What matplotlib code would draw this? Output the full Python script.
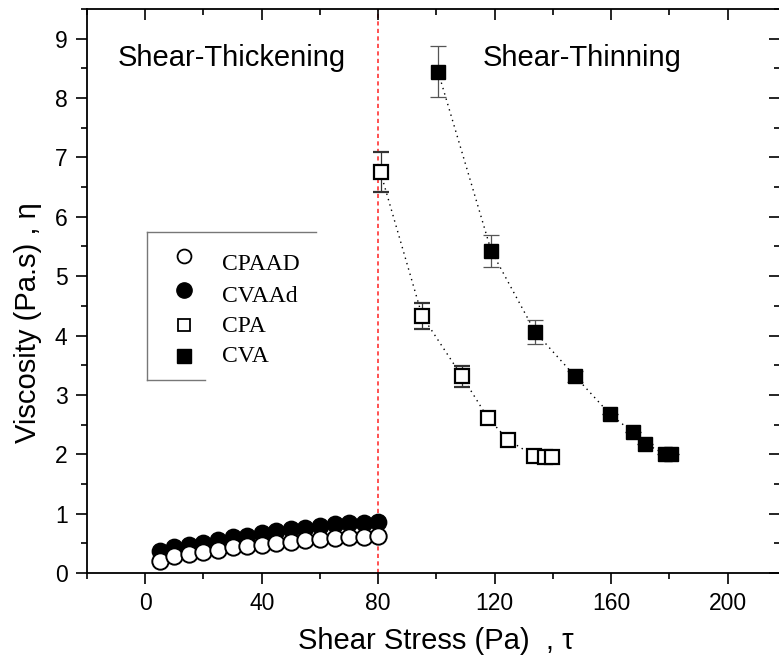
import matplotlib
matplotlib.use("Agg")
import matplotlib.pyplot as plt
from matplotlib.lines import Line2D
from matplotlib.ticker import MultipleLocator

# ---- data ----
x_circ = [5, 10, 15, 20, 25, 30, 35, 40, 45, 50, 55, 60, 65, 70, 75, 80]
cpaad = [0.20, 0.28, 0.32, 0.35, 0.39, 0.43, 0.45, 0.48, 0.51, 0.53, 0.55, 0.57, 0.59, 0.60, 0.61, 0.62]
cpaad_err = [0.04] * 16
cvaad = [0.37, 0.43, 0.48, 0.51, 0.56, 0.61, 0.63, 0.68, 0.71, 0.74, 0.76, 0.80, 0.83, 0.84, 0.84, 0.86]

x_cpa = [80.8, 95.1, 108.8, 117.7, 124.7, 133.6, 137.4, 139.7]
cpa = [6.75, 4.33, 3.31, 2.61, 2.24, 1.97, 1.95, 1.95]
cpa_err = [0.34, 0.22, 0.17, 0.05, 0.0, 0.0, 0.0, 0.0]

x_cva = [100.6, 118.8, 133.9, 147.7, 159.7, 167.5, 171.8, 178.5, 180.5]
cva = [8.44, 5.43, 4.06, 3.31, 2.67, 2.37, 2.18, 2.00, 2.00]
cva_err = [0.43, 0.27, 0.20, 0.10, 0.0, 0.0, 0.0, 0.0, 0.0]

series_names = ["CPAAD", "CVAAd", "CPA", "CVA"]
x_ticks = [0, 40, 80, 120, 160, 200]
y_ticks = [0, 1, 2, 3, 4, 5, 6, 7, 8, 9]

W, H = 779, 660
fig = plt.figure(figsize=(W / 100, H / 100), dpi=100)
left, right, top, bottom = 87, 780, 9, 573
ax = fig.add_axes([left / W, (H - bottom) / H, (right - left) / W, (bottom - top) / H])

sans = "Liberation Sans"
serif = "Liberation Serif"

def fx(px):
    return px / W

def fy(py):
    return 1 - py / H

# red dashed separator
ax.axvline(80, color="#ff3333", ls=(0, (2.5, 2)), lw=1.2, zorder=1)

# circles
ax.errorbar(x_circ, cpaad, yerr=cpaad_err, fmt="o", ms=11.8, mfc="white", mec="black",
            mew=1.4, ecolor="#444444", elinewidth=0.8, capsize=4, capthick=0.8, zorder=3)
ax.errorbar(x_circ, cvaad, fmt="o", ms=11.8, mfc="black", mec="black", zorder=2)

# squares with dotted lines
ax.plot(x_cpa, cpa, ls=(0, (1, 3)), color="black", lw=1.0, zorder=2)
ax.errorbar(x_cpa, cpa, yerr=cpa_err, fmt="s", ms=10.5, mfc="white", mec="black",
            mew=1.6, ecolor="#333333", elinewidth=0.9, capsize=6, capthick=0.9, zorder=3)
ax.plot(x_cva, cva, ls=(0, (1, 3)), color="black", lw=1.0, zorder=2)
ax.errorbar(x_cva, cva, yerr=cva_err, fmt="s", ms=10.5, mfc="black", mec="black",
            ecolor="#555555", elinewidth=0.9, capsize=6, capthick=0.9, zorder=3)

ax.set_xlim(-20, 218)
ax.set_ylim(0, 9.5)
ax.set_xticks(x_ticks)
ax.set_yticks(y_ticks)
ax.xaxis.set_minor_locator(MultipleLocator(20))
ax.yaxis.set_minor_locator(MultipleLocator(0.5))

ax.tick_params(axis="both", which="major", length=8, width=1.2, labelsize=16.5, pad=6)
ax.tick_params(axis="both", which="minor", length=4, width=1.2)
ax.tick_params(axis="x", which="both", top=True, bottom=True, direction="out")
ax.tick_params(axis="y", which="both", left=True, right=True, direction="out")
# inward ticks on top/right
for t in ax.xaxis.get_major_ticks() + ax.xaxis.get_minor_ticks():
    t.tick2line.set_marker(3)
for t in ax.yaxis.get_major_ticks() + ax.yaxis.get_minor_ticks():
    t.tick2line.set_marker(0)
for lab in ax.get_xticklabels() + ax.get_yticklabels():
    lab.set_fontfamily(sans)
for s in ax.spines.values():
    s.set_linewidth(1.3)

fig.text(fx(436), fy(641), "Shear Stress (Pa)  , τ", fontfamily=sans, fontsize=21,
         ha="center", va="center")
fig.text(fx(28), fy(323), "Viscosity (Pa.s) , η", fontfamily=sans, fontsize=21,
         ha="center", va="center", rotation=90)

fig.text(fx(118), fy(58), "Shear-Thickening", fontfamily=sans, fontsize=21,
         ha="left", va="center")
fig.text(fx(483), fy(58), "Shear-Thinning", fontfamily=sans, fontsize=21,
         ha="left", va="center")

# legend (manual layout)
marker_styles = [
    dict(marker="o", ms=10, mfc="white", mec="black", mew=1.3),
    dict(marker="o", ms=11, mfc="black", mec="black"),
    dict(marker="s", ms=9, mfc="white", mec="black", mew=1.3),
    dict(marker="s", ms=10, mfc="black", mec="black"),
]
marker_rows = [256, 290, 325, 356]
text_rows = [264, 296, 326, 357]
for name, st, my, ty in zip(series_names, marker_styles, marker_rows, text_rows):
    fig.add_artist(Line2D([fx(184)], [fy(my)], ls="none", **st))
    fig.text(fx(222), fy(ty), name, fontfamily=serif, fontsize=17, ha="left", va="center")

# partial legend frame
gray = "#777777"
fig.add_artist(Line2D([fx(147), fx(316)], [fy(232), fy(232)], color=gray, lw=1.0))
fig.add_artist(Line2D([fx(147), fx(147)], [fy(232), fy(380)], color=gray, lw=1.0))
fig.add_artist(Line2D([fx(147), fx(205)], [fy(380), fy(380)], color=gray, lw=1.0))

fig.savefig("out.png", dpi=100)
